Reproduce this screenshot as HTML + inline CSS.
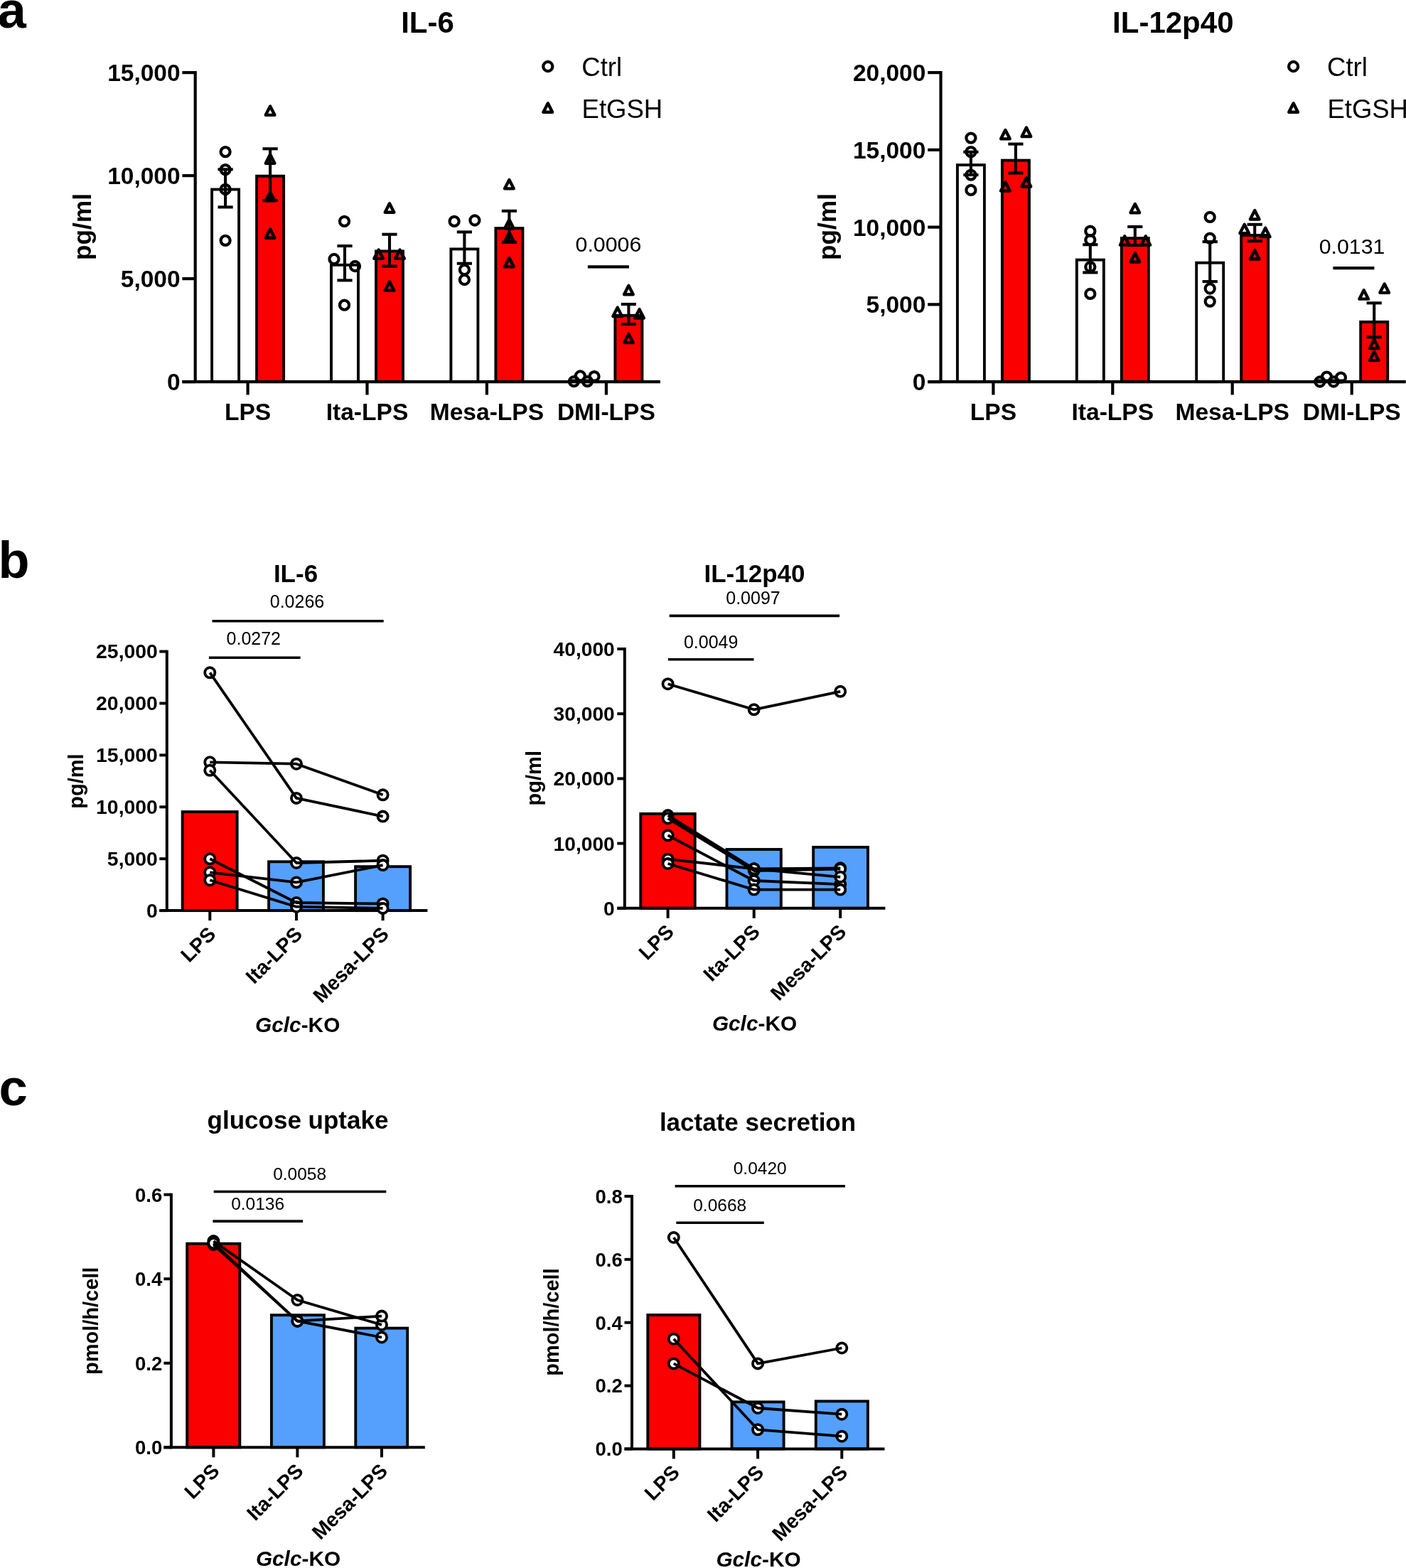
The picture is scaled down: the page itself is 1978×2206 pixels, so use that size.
<!DOCTYPE html>
<html><head><meta charset="utf-8"><title>Figure</title>
<style>
html,body{margin:0;padding:0;background:#fff;}
body{width:1978px;height:2206px;overflow:hidden;}
svg{display:block;}
text{font-family:'Liberation Sans', Arial, Helvetica, sans-serif;fill:#000;}
</style></head>
<body>
<svg width="1978" height="2206" viewBox="0 0 1978 2206">
<rect width="1978" height="2206" fill="#fff"/>
<rect x="298.1" y="266.5" width="38" height="270.6" fill="#fff" stroke="#000" stroke-width="3.9" stroke-linejoin="miter"/>
<rect x="361.1" y="247.7" width="38" height="289.4" fill="#fb0000" stroke="#000" stroke-width="3.9" stroke-linejoin="miter"/>
<rect x="466" y="372.8" width="38" height="164.3" fill="#fff" stroke="#000" stroke-width="3.9" stroke-linejoin="miter"/>
<rect x="529" y="353.4" width="38" height="183.7" fill="#fb0000" stroke="#000" stroke-width="3.9" stroke-linejoin="miter"/>
<rect x="634.4" y="350.4" width="38" height="186.7" fill="#fff" stroke="#000" stroke-width="3.9" stroke-linejoin="miter"/>
<rect x="697.4" y="321.1" width="38" height="216" fill="#fb0000" stroke="#000" stroke-width="3.9" stroke-linejoin="miter"/>
<rect x="802.4" y="535.5" width="38" height="1.6" fill="#fff" stroke="#000" stroke-width="3.9" stroke-linejoin="miter"/>
<rect x="865.4" y="443.8" width="38" height="93.3" fill="#fb0000" stroke="#000" stroke-width="3.9" stroke-linejoin="miter"/>
<line x1="274.7" y1="100.1" x2="274.7" y2="539.1" stroke="#000" stroke-width="4.2" stroke-linecap="butt"/>
<line x1="256.4" y1="102.1" x2="274.7" y2="102.1" stroke="#000" stroke-width="4.2" stroke-linecap="butt"/>
<text x="253.6" y="114" font-size="33.5" font-weight="bold" text-anchor="end">15,000</text>
<line x1="256.4" y1="247.1" x2="274.7" y2="247.1" stroke="#000" stroke-width="4.2" stroke-linecap="butt"/>
<text x="253.6" y="259" font-size="33.5" font-weight="bold" text-anchor="end">10,000</text>
<line x1="256.4" y1="392.1" x2="274.7" y2="392.1" stroke="#000" stroke-width="4.2" stroke-linecap="butt"/>
<text x="253.6" y="404" font-size="33.5" font-weight="bold" text-anchor="end">5,000</text>
<line x1="256.4" y1="537.1" x2="274.7" y2="537.1" stroke="#000" stroke-width="4.2" stroke-linecap="butt"/>
<text x="253.6" y="549" font-size="33.5" font-weight="bold" text-anchor="end">0</text>
<line x1="256.4" y1="537.1" x2="928.9" y2="537.1" stroke="#000" stroke-width="4.2" stroke-linecap="butt"/>
<line x1="348.6" y1="537.1" x2="348.6" y2="555.5" stroke="#000" stroke-width="4.2" stroke-linecap="butt"/>
<line x1="516.5" y1="537.1" x2="516.5" y2="555.5" stroke="#000" stroke-width="4.2" stroke-linecap="butt"/>
<line x1="684.9" y1="537.1" x2="684.9" y2="555.5" stroke="#000" stroke-width="4.2" stroke-linecap="butt"/>
<line x1="852.9" y1="537.1" x2="852.9" y2="555.5" stroke="#000" stroke-width="4.2" stroke-linecap="butt"/>
<text x="348.6" y="590.6" font-size="33.6" font-weight="bold" text-anchor="middle">LPS</text>
<text x="516.5" y="590.6" font-size="33.6" font-weight="bold" text-anchor="middle">Ita-LPS</text>
<text x="684.9" y="590.6" font-size="33.6" font-weight="bold" text-anchor="middle">Mesa-LPS</text>
<text x="852.9" y="590.6" font-size="33.6" font-weight="bold" text-anchor="middle">DMI-LPS</text>
<line x1="317.1" y1="238.3" x2="317.1" y2="291.4" stroke="#000" stroke-width="4.1" stroke-linecap="butt"/>
<line x1="306.5" y1="238.3" x2="327.7" y2="238.3" stroke="#000" stroke-width="4.1" stroke-linecap="butt"/>
<line x1="306.5" y1="291.4" x2="327.7" y2="291.4" stroke="#000" stroke-width="4.1" stroke-linecap="butt"/>
<line x1="380.1" y1="209.3" x2="380.1" y2="282" stroke="#000" stroke-width="4.1" stroke-linecap="butt"/>
<line x1="369.5" y1="209.3" x2="390.7" y2="209.3" stroke="#000" stroke-width="4.1" stroke-linecap="butt"/>
<line x1="369.5" y1="282" x2="390.7" y2="282" stroke="#000" stroke-width="4.1" stroke-linecap="butt"/>
<circle cx="317.1" cy="213.6" r="6.55" fill="none" stroke="#000" stroke-width="4.2"/>
<circle cx="317.1" cy="238.6" r="6.55" fill="none" stroke="#000" stroke-width="4.2"/>
<circle cx="317.1" cy="266.4" r="6.55" fill="none" stroke="#000" stroke-width="4.2"/>
<circle cx="317.1" cy="338.3" r="6.55" fill="none" stroke="#000" stroke-width="4.2"/>
<polygon points="380.1,149.47 373.8,161.86 386.4,161.86" fill="none" stroke="#000" stroke-width="4.4" stroke-linejoin="round"/>
<polygon points="380.1,217.37 373.8,229.76 386.4,229.76" fill="none" stroke="#000" stroke-width="4.4" stroke-linejoin="round"/>
<polygon points="380.1,270.17 373.8,282.56 386.4,282.56" fill="none" stroke="#000" stroke-width="4.4" stroke-linejoin="round"/>
<polygon points="380.1,322.37 373.8,334.76 386.4,334.76" fill="none" stroke="#000" stroke-width="4.4" stroke-linejoin="round"/>
<line x1="485" y1="346" x2="485" y2="394.4" stroke="#000" stroke-width="4.1" stroke-linecap="butt"/>
<line x1="474.4" y1="346" x2="495.6" y2="346" stroke="#000" stroke-width="4.1" stroke-linecap="butt"/>
<line x1="474.4" y1="394.4" x2="495.6" y2="394.4" stroke="#000" stroke-width="4.1" stroke-linecap="butt"/>
<line x1="548" y1="329.7" x2="548" y2="374.5" stroke="#000" stroke-width="4.1" stroke-linecap="butt"/>
<line x1="537.4" y1="329.7" x2="558.6" y2="329.7" stroke="#000" stroke-width="4.1" stroke-linecap="butt"/>
<line x1="537.4" y1="374.5" x2="558.6" y2="374.5" stroke="#000" stroke-width="4.1" stroke-linecap="butt"/>
<circle cx="484.5" cy="311.4" r="6.55" fill="none" stroke="#000" stroke-width="4.2"/>
<circle cx="470" cy="364.5" r="6.55" fill="none" stroke="#000" stroke-width="4.2"/>
<circle cx="499.5" cy="374.5" r="6.55" fill="none" stroke="#000" stroke-width="4.2"/>
<circle cx="484.5" cy="429.2" r="6.55" fill="none" stroke="#000" stroke-width="4.2"/>
<polygon points="548,286.37 541.7,298.76 554.3,298.76" fill="none" stroke="#000" stroke-width="4.4" stroke-linejoin="round"/>
<polygon points="532.6,351.47 526.3,363.86 538.9,363.86" fill="none" stroke="#000" stroke-width="4.4" stroke-linejoin="round"/>
<polygon points="562.5,351.47 556.2,363.86 568.8,363.86" fill="none" stroke="#000" stroke-width="4.4" stroke-linejoin="round"/>
<polygon points="548,396.27 541.7,408.66 554.3,408.66" fill="none" stroke="#000" stroke-width="4.4" stroke-linejoin="round"/>
<line x1="653.4" y1="326.4" x2="653.4" y2="370.7" stroke="#000" stroke-width="4.1" stroke-linecap="butt"/>
<line x1="642.8" y1="326.4" x2="664" y2="326.4" stroke="#000" stroke-width="4.1" stroke-linecap="butt"/>
<line x1="642.8" y1="370.7" x2="664" y2="370.7" stroke="#000" stroke-width="4.1" stroke-linecap="butt"/>
<line x1="716.4" y1="296.8" x2="716.4" y2="340.8" stroke="#000" stroke-width="4.1" stroke-linecap="butt"/>
<line x1="705.8" y1="296.8" x2="727" y2="296.8" stroke="#000" stroke-width="4.1" stroke-linecap="butt"/>
<line x1="705.8" y1="340.8" x2="727" y2="340.8" stroke="#000" stroke-width="4.1" stroke-linecap="butt"/>
<circle cx="639.1" cy="311.4" r="6.55" fill="none" stroke="#000" stroke-width="4.2"/>
<circle cx="667.9" cy="310" r="6.55" fill="none" stroke="#000" stroke-width="4.2"/>
<circle cx="653.4" cy="379.5" r="6.55" fill="none" stroke="#000" stroke-width="4.2"/>
<circle cx="653.4" cy="393.5" r="6.55" fill="none" stroke="#000" stroke-width="4.2"/>
<polygon points="716.4,252.97 710.1,265.36 722.7,265.36" fill="none" stroke="#000" stroke-width="4.4" stroke-linejoin="round"/>
<polygon points="716.4,309.07 710.1,321.46 722.7,321.46" fill="none" stroke="#000" stroke-width="4.4" stroke-linejoin="round"/>
<polygon points="716.4,327.07 710.1,339.46 722.7,339.46" fill="none" stroke="#000" stroke-width="4.4" stroke-linejoin="round"/>
<polygon points="716.4,362.87 710.1,375.26 722.7,375.26" fill="none" stroke="#000" stroke-width="4.4" stroke-linejoin="round"/>
<line x1="884.4" y1="428" x2="884.4" y2="456" stroke="#000" stroke-width="4.1" stroke-linecap="butt"/>
<line x1="873.8" y1="428" x2="895" y2="428" stroke="#000" stroke-width="4.1" stroke-linecap="butt"/>
<line x1="873.8" y1="456" x2="895" y2="456" stroke="#000" stroke-width="4.1" stroke-linecap="butt"/>
<circle cx="807.4" cy="536.6" r="6.55" fill="none" stroke="#000" stroke-width="4.2"/>
<circle cx="816.3" cy="529" r="6.55" fill="none" stroke="#000" stroke-width="4.2"/>
<circle cx="826.4" cy="536.6" r="6.55" fill="none" stroke="#000" stroke-width="4.2"/>
<circle cx="836" cy="529.6" r="6.55" fill="none" stroke="#000" stroke-width="4.2"/>
<polygon points="884.4,401.87 878.1,414.26 890.7,414.26" fill="none" stroke="#000" stroke-width="4.4" stroke-linejoin="round"/>
<polygon points="868.7,432.67 862.4,445.06 875,445.06" fill="none" stroke="#000" stroke-width="4.4" stroke-linejoin="round"/>
<polygon points="899.5,435.17 893.2,447.56 905.8,447.56" fill="none" stroke="#000" stroke-width="4.4" stroke-linejoin="round"/>
<polygon points="884.4,469.77 878.1,482.16 890.7,482.16" fill="none" stroke="#000" stroke-width="4.4" stroke-linejoin="round"/>
<text x="601.5" y="45.5" font-size="42" font-weight="bold" text-anchor="middle">IL-6</text>
<text x="127.6" y="319" font-size="35.3" font-weight="bold" text-anchor="middle" transform="rotate(-90 127.6 319)">pg/ml</text>
<circle cx="770.8" cy="93.5" r="6.55" fill="none" stroke="#000" stroke-width="4.2"/>
<polygon points="770.8,145.37 764.5,157.76 777.1,157.76" fill="none" stroke="#000" stroke-width="4.4" stroke-linejoin="round"/>
<text x="818.3" y="106.6" font-size="36.5" font-weight="normal" text-anchor="start">Ctrl</text>
<text x="818.6" y="165.7" font-size="36.5" font-weight="normal" text-anchor="start">EtGSH</text>
<line x1="826.9" y1="375.3" x2="884.9" y2="375.3" stroke="#000" stroke-width="4.2" stroke-linecap="butt"/>
<text x="855.9" y="354.2" font-size="30.3" font-weight="normal" text-anchor="middle">0.0006</text>
<rect x="1346.9" y="232.1" width="38" height="305" fill="#fff" stroke="#000" stroke-width="3.9" stroke-linejoin="miter"/>
<rect x="1409.9" y="225.6" width="38" height="311.5" fill="#fb0000" stroke="#000" stroke-width="3.9" stroke-linejoin="miter"/>
<rect x="1514.8" y="365.6" width="38" height="171.5" fill="#fff" stroke="#000" stroke-width="3.9" stroke-linejoin="miter"/>
<rect x="1577.8" y="335.1" width="38" height="202" fill="#fb0000" stroke="#000" stroke-width="3.9" stroke-linejoin="miter"/>
<rect x="1683.2" y="369.7" width="38" height="167.4" fill="#fff" stroke="#000" stroke-width="3.9" stroke-linejoin="miter"/>
<rect x="1746.2" y="331" width="38" height="206.1" fill="#fb0000" stroke="#000" stroke-width="3.9" stroke-linejoin="miter"/>
<rect x="1851.2" y="535.5" width="38" height="1.6" fill="#fff" stroke="#000" stroke-width="3.9" stroke-linejoin="miter"/>
<rect x="1914.2" y="452.9" width="38" height="84.2" fill="#fb0000" stroke="#000" stroke-width="3.9" stroke-linejoin="miter"/>
<line x1="1323.5" y1="100.1" x2="1323.5" y2="539.1" stroke="#000" stroke-width="4.2" stroke-linecap="butt"/>
<line x1="1305.2" y1="102.1" x2="1323.5" y2="102.1" stroke="#000" stroke-width="4.2" stroke-linecap="butt"/>
<text x="1302.4" y="114" font-size="33.5" font-weight="bold" text-anchor="end">20,000</text>
<line x1="1305.2" y1="210.85" x2="1323.5" y2="210.85" stroke="#000" stroke-width="4.2" stroke-linecap="butt"/>
<text x="1302.4" y="222.75" font-size="33.5" font-weight="bold" text-anchor="end">15,000</text>
<line x1="1305.2" y1="319.6" x2="1323.5" y2="319.6" stroke="#000" stroke-width="4.2" stroke-linecap="butt"/>
<text x="1302.4" y="331.5" font-size="33.5" font-weight="bold" text-anchor="end">10,000</text>
<line x1="1305.2" y1="428.35" x2="1323.5" y2="428.35" stroke="#000" stroke-width="4.2" stroke-linecap="butt"/>
<text x="1302.4" y="440.25" font-size="33.5" font-weight="bold" text-anchor="end">5,000</text>
<line x1="1305.2" y1="537.1" x2="1323.5" y2="537.1" stroke="#000" stroke-width="4.2" stroke-linecap="butt"/>
<text x="1302.4" y="549" font-size="33.5" font-weight="bold" text-anchor="end">0</text>
<line x1="1305.2" y1="537.1" x2="1977.7" y2="537.1" stroke="#000" stroke-width="4.2" stroke-linecap="butt"/>
<line x1="1397.4" y1="537.1" x2="1397.4" y2="555.5" stroke="#000" stroke-width="4.2" stroke-linecap="butt"/>
<line x1="1565.3" y1="537.1" x2="1565.3" y2="555.5" stroke="#000" stroke-width="4.2" stroke-linecap="butt"/>
<line x1="1733.7" y1="537.1" x2="1733.7" y2="555.5" stroke="#000" stroke-width="4.2" stroke-linecap="butt"/>
<line x1="1901.7" y1="537.1" x2="1901.7" y2="555.5" stroke="#000" stroke-width="4.2" stroke-linecap="butt"/>
<text x="1397.4" y="590.6" font-size="33.6" font-weight="bold" text-anchor="middle">LPS</text>
<text x="1565.3" y="590.6" font-size="33.6" font-weight="bold" text-anchor="middle">Ita-LPS</text>
<text x="1733.7" y="590.6" font-size="33.6" font-weight="bold" text-anchor="middle">Mesa-LPS</text>
<text x="1901.7" y="590.6" font-size="33.6" font-weight="bold" text-anchor="middle">DMI-LPS</text>
<line x1="1365.9" y1="213.7" x2="1365.9" y2="246.1" stroke="#000" stroke-width="4.1" stroke-linecap="butt"/>
<line x1="1355.3" y1="213.7" x2="1376.5" y2="213.7" stroke="#000" stroke-width="4.1" stroke-linecap="butt"/>
<line x1="1355.3" y1="246.1" x2="1376.5" y2="246.1" stroke="#000" stroke-width="4.1" stroke-linecap="butt"/>
<line x1="1428.9" y1="202.6" x2="1428.9" y2="243.5" stroke="#000" stroke-width="4.1" stroke-linecap="butt"/>
<line x1="1418.3" y1="202.6" x2="1439.5" y2="202.6" stroke="#000" stroke-width="4.1" stroke-linecap="butt"/>
<line x1="1418.3" y1="243.5" x2="1439.5" y2="243.5" stroke="#000" stroke-width="4.1" stroke-linecap="butt"/>
<circle cx="1365.9" cy="194.1" r="6.55" fill="none" stroke="#000" stroke-width="4.2"/>
<circle cx="1365.9" cy="213.7" r="6.55" fill="none" stroke="#000" stroke-width="4.2"/>
<circle cx="1365.9" cy="246.1" r="6.55" fill="none" stroke="#000" stroke-width="4.2"/>
<circle cx="1365.9" cy="267.4" r="6.55" fill="none" stroke="#000" stroke-width="4.2"/>
<polygon points="1414.4,182.97 1408.1,195.36 1420.7,195.36" fill="none" stroke="#000" stroke-width="4.4" stroke-linejoin="round"/>
<polygon points="1443.9,179.57 1437.6,191.96 1450.2,191.96" fill="none" stroke="#000" stroke-width="4.4" stroke-linejoin="round"/>
<polygon points="1414.4,256.17 1408.1,268.56 1420.7,268.56" fill="none" stroke="#000" stroke-width="4.4" stroke-linejoin="round"/>
<polygon points="1443.9,250.17 1437.6,262.56 1450.2,262.56" fill="none" stroke="#000" stroke-width="4.4" stroke-linejoin="round"/>
<line x1="1533.8" y1="344.2" x2="1533.8" y2="383.4" stroke="#000" stroke-width="4.1" stroke-linecap="butt"/>
<line x1="1523.2" y1="344.2" x2="1544.4" y2="344.2" stroke="#000" stroke-width="4.1" stroke-linecap="butt"/>
<line x1="1523.2" y1="383.4" x2="1544.4" y2="383.4" stroke="#000" stroke-width="4.1" stroke-linecap="butt"/>
<line x1="1596.8" y1="319" x2="1596.8" y2="345" stroke="#000" stroke-width="4.1" stroke-linecap="butt"/>
<line x1="1586.2" y1="319" x2="1607.4" y2="319" stroke="#000" stroke-width="4.1" stroke-linecap="butt"/>
<line x1="1586.2" y1="345" x2="1607.4" y2="345" stroke="#000" stroke-width="4.1" stroke-linecap="butt"/>
<circle cx="1533.8" cy="325.2" r="6.55" fill="none" stroke="#000" stroke-width="4.2"/>
<circle cx="1533.8" cy="337.6" r="6.55" fill="none" stroke="#000" stroke-width="4.2"/>
<circle cx="1533.8" cy="375.5" r="6.55" fill="none" stroke="#000" stroke-width="4.2"/>
<circle cx="1533.8" cy="413.4" r="6.55" fill="none" stroke="#000" stroke-width="4.2"/>
<polygon points="1596.8,286.97 1590.5,299.36 1603.1,299.36" fill="none" stroke="#000" stroke-width="4.4" stroke-linejoin="round"/>
<polygon points="1582.2,332.27 1575.9,344.66 1588.5,344.66" fill="none" stroke="#000" stroke-width="4.4" stroke-linejoin="round"/>
<polygon points="1611.8,332.27 1605.5,344.66 1618.1,344.66" fill="none" stroke="#000" stroke-width="4.4" stroke-linejoin="round"/>
<polygon points="1596.8,356.17 1590.5,368.56 1603.1,368.56" fill="none" stroke="#000" stroke-width="4.4" stroke-linejoin="round"/>
<line x1="1702.2" y1="340.1" x2="1702.2" y2="396.1" stroke="#000" stroke-width="4.1" stroke-linecap="butt"/>
<line x1="1691.6" y1="340.1" x2="1712.8" y2="340.1" stroke="#000" stroke-width="4.1" stroke-linecap="butt"/>
<line x1="1691.6" y1="396.1" x2="1712.8" y2="396.1" stroke="#000" stroke-width="4.1" stroke-linecap="butt"/>
<line x1="1765.2" y1="315.8" x2="1765.2" y2="339.2" stroke="#000" stroke-width="4.1" stroke-linecap="butt"/>
<line x1="1754.6" y1="315.8" x2="1775.8" y2="315.8" stroke="#000" stroke-width="4.1" stroke-linecap="butt"/>
<line x1="1754.6" y1="339.2" x2="1775.8" y2="339.2" stroke="#000" stroke-width="4.1" stroke-linecap="butt"/>
<circle cx="1702.2" cy="305.4" r="6.55" fill="none" stroke="#000" stroke-width="4.2"/>
<circle cx="1702.2" cy="335.1" r="6.55" fill="none" stroke="#000" stroke-width="4.2"/>
<circle cx="1702.2" cy="406" r="6.55" fill="none" stroke="#000" stroke-width="4.2"/>
<circle cx="1702.2" cy="424.1" r="6.55" fill="none" stroke="#000" stroke-width="4.2"/>
<polygon points="1765.2,296.07 1758.9,308.46 1771.5,308.46" fill="none" stroke="#000" stroke-width="4.4" stroke-linejoin="round"/>
<polygon points="1750.7,315.77 1744.4,328.16 1757,328.16" fill="none" stroke="#000" stroke-width="4.4" stroke-linejoin="round"/>
<polygon points="1780.2,320.77 1773.9,333.16 1786.5,333.16" fill="none" stroke="#000" stroke-width="4.4" stroke-linejoin="round"/>
<polygon points="1765.2,352.07 1758.9,364.46 1771.5,364.46" fill="none" stroke="#000" stroke-width="4.4" stroke-linejoin="round"/>
<line x1="1933.2" y1="426.3" x2="1933.2" y2="474.4" stroke="#000" stroke-width="4.1" stroke-linecap="butt"/>
<line x1="1922.6" y1="426.3" x2="1943.8" y2="426.3" stroke="#000" stroke-width="4.1" stroke-linecap="butt"/>
<line x1="1922.6" y1="474.4" x2="1943.8" y2="474.4" stroke="#000" stroke-width="4.1" stroke-linecap="butt"/>
<circle cx="1856.9" cy="537" r="6.55" fill="none" stroke="#000" stroke-width="4.2"/>
<circle cx="1866.5" cy="530.2" r="6.55" fill="none" stroke="#000" stroke-width="4.2"/>
<circle cx="1876.1" cy="537" r="6.55" fill="none" stroke="#000" stroke-width="4.2"/>
<circle cx="1886.4" cy="531.2" r="6.55" fill="none" stroke="#000" stroke-width="4.2"/>
<polygon points="1918.7,408.27 1912.4,420.66 1925,420.66" fill="none" stroke="#000" stroke-width="4.4" stroke-linejoin="round"/>
<polygon points="1947.7,399.47 1941.4,411.86 1954,411.86" fill="none" stroke="#000" stroke-width="4.4" stroke-linejoin="round"/>
<polygon points="1933.2,477.77 1926.9,490.16 1939.5,490.16" fill="none" stroke="#000" stroke-width="4.4" stroke-linejoin="round"/>
<polygon points="1933.2,494.77 1926.9,507.16 1939.5,507.16" fill="none" stroke="#000" stroke-width="4.4" stroke-linejoin="round"/>
<text x="1650.3" y="45.5" font-size="42" font-weight="bold" text-anchor="middle">IL-12p40</text>
<text x="1176.4" y="319" font-size="35.3" font-weight="bold" text-anchor="middle" transform="rotate(-90 1176.4 319)">pg/ml</text>
<circle cx="1819.6" cy="93.5" r="6.55" fill="none" stroke="#000" stroke-width="4.2"/>
<polygon points="1819.6,145.37 1813.3,157.76 1825.9,157.76" fill="none" stroke="#000" stroke-width="4.4" stroke-linejoin="round"/>
<text x="1867.1" y="106.6" font-size="36.5" font-weight="normal" text-anchor="start">Ctrl</text>
<text x="1867.4" y="165.7" font-size="36.5" font-weight="normal" text-anchor="start">EtGSH</text>
<line x1="1875.4" y1="377.2" x2="1933.4" y2="377.2" stroke="#000" stroke-width="4.2" stroke-linecap="butt"/>
<text x="1902.1" y="357.2" font-size="30.3" font-weight="normal" text-anchor="middle">0.0131</text>
<rect x="256.7" y="1142.1" width="76.9" height="139" fill="#fb0000" stroke="#000" stroke-width="3.9" stroke-linejoin="miter"/>
<rect x="378.1" y="1212.3" width="76.8" height="68.8" fill="#55a0fc" stroke="#000" stroke-width="3.9" stroke-linejoin="miter"/>
<rect x="500.1" y="1219.2" width="77" height="61.9" fill="#55a0fc" stroke="#000" stroke-width="3.9" stroke-linejoin="miter"/>
<line x1="234.8" y1="914.7" x2="234.8" y2="1283" stroke="#000" stroke-width="4" stroke-linecap="butt"/>
<line x1="224.3" y1="916.6" x2="234.8" y2="916.6" stroke="#000" stroke-width="4" stroke-linecap="butt"/>
<text x="221.9" y="926.4" font-size="28.4" font-weight="bold" text-anchor="end">25,000</text>
<line x1="224.3" y1="989.5" x2="234.8" y2="989.5" stroke="#000" stroke-width="4" stroke-linecap="butt"/>
<text x="221.9" y="999.3" font-size="28.4" font-weight="bold" text-anchor="end">20,000</text>
<line x1="224.3" y1="1062.4" x2="234.8" y2="1062.4" stroke="#000" stroke-width="4" stroke-linecap="butt"/>
<text x="221.9" y="1072.2" font-size="28.4" font-weight="bold" text-anchor="end">15,000</text>
<line x1="224.3" y1="1135.3" x2="234.8" y2="1135.3" stroke="#000" stroke-width="4" stroke-linecap="butt"/>
<text x="221.9" y="1145.1" font-size="28.4" font-weight="bold" text-anchor="end">10,000</text>
<line x1="224.3" y1="1208.2" x2="234.8" y2="1208.2" stroke="#000" stroke-width="4" stroke-linecap="butt"/>
<text x="221.9" y="1218" font-size="28.4" font-weight="bold" text-anchor="end">5,000</text>
<line x1="224.3" y1="1281.1" x2="234.8" y2="1281.1" stroke="#000" stroke-width="4" stroke-linecap="butt"/>
<text x="221.9" y="1290.9" font-size="28.4" font-weight="bold" text-anchor="end">0</text>
<line x1="224.3" y1="1281.1" x2="601.4" y2="1281.1" stroke="#000" stroke-width="4" stroke-linecap="butt"/>
<line x1="295.3" y1="1281.1" x2="295.3" y2="1295.1" stroke="#000" stroke-width="4" stroke-linecap="butt"/>
<line x1="417" y1="1281.1" x2="417" y2="1295.1" stroke="#000" stroke-width="4" stroke-linecap="butt"/>
<line x1="538.6" y1="1281.1" x2="538.6" y2="1295.1" stroke="#000" stroke-width="4" stroke-linecap="butt"/>
<circle cx="295.3" cy="946.3" r="7.1" fill="#fff" stroke="#000" stroke-width="3.8"/>
<circle cx="417" cy="1122.9" r="7.1" fill="#fff" stroke="#000" stroke-width="3.8"/>
<circle cx="538.6" cy="1148.6" r="7.1" fill="#fff" stroke="#000" stroke-width="3.8"/>
<circle cx="295.3" cy="1072.3" r="7.1" fill="#fff" stroke="#000" stroke-width="3.8"/>
<circle cx="417" cy="1074.7" r="7.1" fill="#fff" stroke="#000" stroke-width="3.8"/>
<circle cx="538.6" cy="1118.3" r="7.1" fill="#fff" stroke="#000" stroke-width="3.8"/>
<circle cx="295.3" cy="1083.8" r="7.1" fill="#fff" stroke="#000" stroke-width="3.8"/>
<circle cx="417" cy="1214" r="7.1" fill="#fff" stroke="#000" stroke-width="3.8"/>
<circle cx="538.6" cy="1210.7" r="7.1" fill="#fff" stroke="#000" stroke-width="3.8"/>
<circle cx="295.3" cy="1208.3" r="7.1" fill="#fff" stroke="#000" stroke-width="3.8"/>
<circle cx="417" cy="1270" r="7.1" fill="#fff" stroke="#000" stroke-width="3.8"/>
<circle cx="538.6" cy="1271.4" r="7.1" fill="#fff" stroke="#000" stroke-width="3.8"/>
<circle cx="295.3" cy="1227.3" r="7.1" fill="#fff" stroke="#000" stroke-width="3.8"/>
<circle cx="417" cy="1241.4" r="7.1" fill="#fff" stroke="#000" stroke-width="3.8"/>
<circle cx="538.6" cy="1217.1" r="7.1" fill="#fff" stroke="#000" stroke-width="3.8"/>
<circle cx="295.3" cy="1238.3" r="7.1" fill="#fff" stroke="#000" stroke-width="3.8"/>
<circle cx="417" cy="1275.7" r="7.1" fill="#fff" stroke="#000" stroke-width="3.8"/>
<circle cx="538.6" cy="1277.9" r="7.1" fill="#fff" stroke="#000" stroke-width="3.8"/>
<polyline points="295.3,946.3 417,1122.9 538.6,1148.6" fill="none" stroke="#000" stroke-width="3.8" stroke-linejoin="round"/>
<polyline points="295.3,1072.3 417,1074.7 538.6,1118.3" fill="none" stroke="#000" stroke-width="3.8" stroke-linejoin="round"/>
<polyline points="295.3,1083.8 417,1214 538.6,1210.7" fill="none" stroke="#000" stroke-width="3.8" stroke-linejoin="round"/>
<polyline points="295.3,1208.3 417,1270 538.6,1271.4" fill="none" stroke="#000" stroke-width="3.8" stroke-linejoin="round"/>
<polyline points="295.3,1227.3 417,1241.4 538.6,1217.1" fill="none" stroke="#000" stroke-width="3.8" stroke-linejoin="round"/>
<polyline points="295.3,1238.3 417,1275.7 538.6,1277.9" fill="none" stroke="#000" stroke-width="3.8" stroke-linejoin="round"/>
<line x1="293.9" y1="925.3" x2="422.6" y2="925.3" stroke="#000" stroke-width="3.6" stroke-linecap="butt"/>
<text x="356.8" y="907.2" font-size="25" font-weight="normal" text-anchor="middle">0.0272</text>
<line x1="298.5" y1="873.7" x2="539.7" y2="873.7" stroke="#000" stroke-width="3.6" stroke-linecap="butt"/>
<text x="418" y="855.3" font-size="25" font-weight="normal" text-anchor="middle">0.0266</text>
<text x="416" y="818.5" font-size="35" font-weight="bold" text-anchor="middle">IL-6</text>
<text x="116.6" y="1099" font-size="29" font-weight="bold" text-anchor="middle" transform="rotate(-90 116.6 1099)">pg/ml</text>
<text x="305.3" y="1316.1" font-size="28.5" font-weight="bold" text-anchor="end" transform="rotate(-45 305.3 1316.1)">LPS</text>
<text x="427" y="1316.1" font-size="28.5" font-weight="bold" text-anchor="end" transform="rotate(-45 427 1316.1)">Ita-LPS</text>
<text x="548.6" y="1316.1" font-size="28.5" font-weight="bold" text-anchor="end" transform="rotate(-45 548.6 1316.1)">Mesa-LPS</text>
<text x="418.7" y="1452.3" font-size="29.8" font-weight="bold" text-anchor="middle"><tspan font-style="italic">Gclc</tspan>-KO</text>
<rect x="901.3" y="1144.9" width="76.4" height="132.9" fill="#fb0000" stroke="#000" stroke-width="3.9" stroke-linejoin="miter"/>
<rect x="1022.5" y="1195" width="76.3" height="82.8" fill="#55a0fc" stroke="#000" stroke-width="3.9" stroke-linejoin="miter"/>
<rect x="1144.2" y="1191.9" width="76.8" height="85.9" fill="#55a0fc" stroke="#000" stroke-width="3.9" stroke-linejoin="miter"/>
<line x1="878.8" y1="911.1" x2="878.8" y2="1279.7" stroke="#000" stroke-width="4" stroke-linecap="butt"/>
<line x1="868.3" y1="913" x2="878.8" y2="913" stroke="#000" stroke-width="4" stroke-linecap="butt"/>
<text x="864.8" y="922.9" font-size="28.2" font-weight="bold" text-anchor="end">40,000</text>
<line x1="868.3" y1="1004.2" x2="878.8" y2="1004.2" stroke="#000" stroke-width="4" stroke-linecap="butt"/>
<text x="864.8" y="1014.1" font-size="28.2" font-weight="bold" text-anchor="end">30,000</text>
<line x1="868.3" y1="1095.4" x2="878.8" y2="1095.4" stroke="#000" stroke-width="4" stroke-linecap="butt"/>
<text x="864.8" y="1105.3" font-size="28.2" font-weight="bold" text-anchor="end">20,000</text>
<line x1="868.3" y1="1186.6" x2="878.8" y2="1186.6" stroke="#000" stroke-width="4" stroke-linecap="butt"/>
<text x="864.8" y="1196.5" font-size="28.2" font-weight="bold" text-anchor="end">10,000</text>
<line x1="868.3" y1="1277.8" x2="878.8" y2="1277.8" stroke="#000" stroke-width="4" stroke-linecap="butt"/>
<text x="864.8" y="1287.7" font-size="28.2" font-weight="bold" text-anchor="end">0</text>
<line x1="868.3" y1="1277.8" x2="1245.4" y2="1277.8" stroke="#000" stroke-width="4" stroke-linecap="butt"/>
<line x1="939.6" y1="1277.8" x2="939.6" y2="1291.8" stroke="#000" stroke-width="4" stroke-linecap="butt"/>
<line x1="1060.7" y1="1277.8" x2="1060.7" y2="1291.8" stroke="#000" stroke-width="4" stroke-linecap="butt"/>
<line x1="1182.2" y1="1277.8" x2="1182.2" y2="1291.8" stroke="#000" stroke-width="4" stroke-linecap="butt"/>
<circle cx="939.6" cy="962.2" r="7.1" fill="#fff" stroke="#000" stroke-width="3.8"/>
<circle cx="1060.7" cy="998.3" r="7.1" fill="#fff" stroke="#000" stroke-width="3.8"/>
<circle cx="1182.2" cy="972.8" r="7.1" fill="#fff" stroke="#000" stroke-width="3.8"/>
<circle cx="939.6" cy="1147.1" r="7.1" fill="#fff" stroke="#000" stroke-width="3.8"/>
<circle cx="1060.7" cy="1222.3" r="7.1" fill="#fff" stroke="#000" stroke-width="3.8"/>
<circle cx="1182.2" cy="1221.3" r="7.1" fill="#fff" stroke="#000" stroke-width="3.8"/>
<circle cx="939.6" cy="1151.3" r="7.1" fill="#fff" stroke="#000" stroke-width="3.8"/>
<circle cx="1060.7" cy="1225" r="7.1" fill="#fff" stroke="#000" stroke-width="3.8"/>
<circle cx="1182.2" cy="1222.5" r="7.1" fill="#fff" stroke="#000" stroke-width="3.8"/>
<circle cx="939.6" cy="1175.3" r="7.1" fill="#fff" stroke="#000" stroke-width="3.8"/>
<circle cx="1060.7" cy="1239" r="7.1" fill="#fff" stroke="#000" stroke-width="3.8"/>
<circle cx="1182.2" cy="1244.2" r="7.1" fill="#fff" stroke="#000" stroke-width="3.8"/>
<circle cx="939.6" cy="1208.7" r="7.1" fill="#fff" stroke="#000" stroke-width="3.8"/>
<circle cx="1060.7" cy="1222.3" r="7.1" fill="#fff" stroke="#000" stroke-width="3.8"/>
<circle cx="1182.2" cy="1233.8" r="7.1" fill="#fff" stroke="#000" stroke-width="3.8"/>
<circle cx="939.6" cy="1215" r="7.1" fill="#fff" stroke="#000" stroke-width="3.8"/>
<circle cx="1060.7" cy="1251.6" r="7.1" fill="#fff" stroke="#000" stroke-width="3.8"/>
<circle cx="1182.2" cy="1251.6" r="7.1" fill="#fff" stroke="#000" stroke-width="3.8"/>
<polyline points="939.6,962.2 1060.7,998.3 1182.2,972.8" fill="none" stroke="#000" stroke-width="3.8" stroke-linejoin="round"/>
<polyline points="939.6,1147.1 1060.7,1222.3 1182.2,1221.3" fill="none" stroke="#000" stroke-width="3.8" stroke-linejoin="round"/>
<polyline points="939.6,1151.3 1060.7,1225 1182.2,1222.5" fill="none" stroke="#000" stroke-width="3.8" stroke-linejoin="round"/>
<polyline points="939.6,1175.3 1060.7,1239 1182.2,1244.2" fill="none" stroke="#000" stroke-width="3.8" stroke-linejoin="round"/>
<polyline points="939.6,1208.7 1060.7,1222.3 1182.2,1233.8" fill="none" stroke="#000" stroke-width="3.8" stroke-linejoin="round"/>
<polyline points="939.6,1215 1060.7,1251.6 1182.2,1251.6" fill="none" stroke="#000" stroke-width="3.8" stroke-linejoin="round"/>
<line x1="939.9" y1="927.8" x2="1060.5" y2="927.8" stroke="#000" stroke-width="3.6" stroke-linecap="butt"/>
<text x="1000.2" y="911.8" font-size="25" font-weight="normal" text-anchor="middle">0.0049</text>
<line x1="941.7" y1="866.4" x2="1181.1" y2="866.4" stroke="#000" stroke-width="3.6" stroke-linecap="butt"/>
<text x="1059.5" y="850.4" font-size="25" font-weight="normal" text-anchor="middle">0.0097</text>
<text x="1061.5" y="818.5" font-size="35" font-weight="bold" text-anchor="middle">IL-12p40</text>
<text x="760.8" y="1094.7" font-size="29" font-weight="bold" text-anchor="middle" transform="rotate(-90 760.8 1094.7)">pg/ml</text>
<text x="949.6" y="1312.8" font-size="28.5" font-weight="bold" text-anchor="end" transform="rotate(-45 949.6 1312.8)">LPS</text>
<text x="1070.7" y="1312.8" font-size="28.5" font-weight="bold" text-anchor="end" transform="rotate(-45 1070.7 1312.8)">Ita-LPS</text>
<text x="1192.2" y="1312.8" font-size="28.5" font-weight="bold" text-anchor="end" transform="rotate(-45 1192.2 1312.8)">Mesa-LPS</text>
<text x="1061.5" y="1449.5" font-size="29.8" font-weight="bold" text-anchor="middle"><tspan font-style="italic">Gclc</tspan>-KO</text>
<rect x="263.2" y="1749.7" width="74.1" height="286.6" fill="#fb0000" stroke="#000" stroke-width="3.9" stroke-linejoin="miter"/>
<rect x="381.9" y="1850.2" width="74" height="186.1" fill="#55a0fc" stroke="#000" stroke-width="3.9" stroke-linejoin="miter"/>
<rect x="500.3" y="1868.6" width="72.9" height="167.7" fill="#55a0fc" stroke="#000" stroke-width="3.9" stroke-linejoin="miter"/>
<line x1="240.9" y1="1678.8" x2="240.9" y2="2038.2" stroke="#000" stroke-width="4" stroke-linecap="butt"/>
<line x1="230.4" y1="1680.7" x2="240.9" y2="1680.7" stroke="#000" stroke-width="4" stroke-linecap="butt"/>
<text x="228.3" y="1690.7" font-size="27.5" font-weight="bold" text-anchor="end">0.6</text>
<line x1="230.4" y1="1799.23" x2="240.9" y2="1799.23" stroke="#000" stroke-width="4" stroke-linecap="butt"/>
<text x="228.3" y="1809.23" font-size="27.5" font-weight="bold" text-anchor="end">0.4</text>
<line x1="230.4" y1="1917.77" x2="240.9" y2="1917.77" stroke="#000" stroke-width="4" stroke-linecap="butt"/>
<text x="228.3" y="1927.77" font-size="27.5" font-weight="bold" text-anchor="end">0.2</text>
<line x1="230.4" y1="2036.3" x2="240.9" y2="2036.3" stroke="#000" stroke-width="4" stroke-linecap="butt"/>
<text x="228.3" y="2046.3" font-size="27.5" font-weight="bold" text-anchor="end">0.0</text>
<line x1="230.4" y1="2036.3" x2="597.8" y2="2036.3" stroke="#000" stroke-width="4" stroke-linecap="butt"/>
<line x1="300.4" y1="2036.3" x2="300.4" y2="2050.3" stroke="#000" stroke-width="4" stroke-linecap="butt"/>
<line x1="418.4" y1="2036.3" x2="418.4" y2="2050.3" stroke="#000" stroke-width="4" stroke-linecap="butt"/>
<line x1="537" y1="2036.3" x2="537" y2="2050.3" stroke="#000" stroke-width="4" stroke-linecap="butt"/>
<circle cx="300.4" cy="1746.1" r="7.1" fill="#fff" stroke="#000" stroke-width="3.8"/>
<circle cx="418.4" cy="1829" r="7.1" fill="#fff" stroke="#000" stroke-width="3.8"/>
<circle cx="537" cy="1863.9" r="7.1" fill="#fff" stroke="#000" stroke-width="3.8"/>
<circle cx="300.4" cy="1751" r="7.1" fill="#fff" stroke="#000" stroke-width="3.8"/>
<circle cx="418.4" cy="1858.7" r="7.1" fill="#fff" stroke="#000" stroke-width="3.8"/>
<circle cx="537" cy="1851.6" r="7.1" fill="#fff" stroke="#000" stroke-width="3.8"/>
<circle cx="300.4" cy="1749" r="7.1" fill="#fff" stroke="#000" stroke-width="3.8"/>
<circle cx="418.4" cy="1858.7" r="7.1" fill="#fff" stroke="#000" stroke-width="3.8"/>
<circle cx="537" cy="1881.5" r="7.1" fill="#fff" stroke="#000" stroke-width="3.8"/>
<polyline points="300.4,1746.1 418.4,1829 537,1863.9" fill="none" stroke="#000" stroke-width="3.8" stroke-linejoin="round"/>
<polyline points="300.4,1751 418.4,1858.7 537,1851.6" fill="none" stroke="#000" stroke-width="3.8" stroke-linejoin="round"/>
<polyline points="300.4,1749 418.4,1858.7 537,1881.5" fill="none" stroke="#000" stroke-width="3.8" stroke-linejoin="round"/>
<line x1="299.4" y1="1718.1" x2="426" y2="1718.1" stroke="#000" stroke-width="3.6" stroke-linecap="butt"/>
<text x="362.6" y="1701.6" font-size="24.5" font-weight="normal" text-anchor="middle">0.0136</text>
<line x1="300.7" y1="1676.5" x2="543.3" y2="1676.5" stroke="#000" stroke-width="3.6" stroke-linecap="butt"/>
<text x="421.6" y="1660" font-size="24.5" font-weight="normal" text-anchor="middle">0.0058</text>
<text x="419" y="1587.9" font-size="35" font-weight="bold" text-anchor="middle">glucose uptake</text>
<text x="138.5" y="1858.3" font-size="29" font-weight="bold" text-anchor="middle" transform="rotate(-90 138.5 1858.3)">pmol/h/cell</text>
<text x="310.4" y="2071.3" font-size="28.5" font-weight="bold" text-anchor="end" transform="rotate(-45 310.4 2071.3)">LPS</text>
<text x="428.4" y="2071.3" font-size="28.5" font-weight="bold" text-anchor="end" transform="rotate(-45 428.4 2071.3)">Ita-LPS</text>
<text x="547" y="2071.3" font-size="28.5" font-weight="bold" text-anchor="end" transform="rotate(-45 547 2071.3)">Mesa-LPS</text>
<text x="419.5" y="2203.3" font-size="29.8" font-weight="bold" text-anchor="middle"><tspan font-style="italic">Gclc</tspan>-KO</text>
<rect x="911.3" y="1850" width="73.1" height="188.4" fill="#fb0000" stroke="#000" stroke-width="3.9" stroke-linejoin="miter"/>
<rect x="1029.5" y="1972.4" width="73.1" height="66" fill="#55a0fc" stroke="#000" stroke-width="3.9" stroke-linejoin="miter"/>
<rect x="1147.8" y="1971.4" width="73.1" height="67" fill="#55a0fc" stroke="#000" stroke-width="3.9" stroke-linejoin="miter"/>
<line x1="889" y1="1681.1" x2="889" y2="2040.3" stroke="#000" stroke-width="4" stroke-linecap="butt"/>
<line x1="878.5" y1="1683" x2="889" y2="1683" stroke="#000" stroke-width="4" stroke-linecap="butt"/>
<text x="875.7" y="1692.8" font-size="27.5" font-weight="bold" text-anchor="end">0.8</text>
<line x1="878.5" y1="1771.85" x2="889" y2="1771.85" stroke="#000" stroke-width="4" stroke-linecap="butt"/>
<text x="875.7" y="1781.65" font-size="27.5" font-weight="bold" text-anchor="end">0.6</text>
<line x1="878.5" y1="1860.7" x2="889" y2="1860.7" stroke="#000" stroke-width="4" stroke-linecap="butt"/>
<text x="875.7" y="1870.5" font-size="27.5" font-weight="bold" text-anchor="end">0.4</text>
<line x1="878.5" y1="1949.55" x2="889" y2="1949.55" stroke="#000" stroke-width="4" stroke-linecap="butt"/>
<text x="875.7" y="1959.35" font-size="27.5" font-weight="bold" text-anchor="end">0.2</text>
<line x1="878.5" y1="2038.4" x2="889" y2="2038.4" stroke="#000" stroke-width="4" stroke-linecap="butt"/>
<text x="875.7" y="2048.2" font-size="27.5" font-weight="bold" text-anchor="end">0.0</text>
<line x1="878.5" y1="2038.4" x2="1244.5" y2="2038.4" stroke="#000" stroke-width="4" stroke-linecap="butt"/>
<line x1="947.8" y1="2038.4" x2="947.8" y2="2052.4" stroke="#000" stroke-width="4" stroke-linecap="butt"/>
<line x1="1066.1" y1="2038.4" x2="1066.1" y2="2052.4" stroke="#000" stroke-width="4" stroke-linecap="butt"/>
<line x1="1184.3" y1="2038.4" x2="1184.3" y2="2052.4" stroke="#000" stroke-width="4" stroke-linecap="butt"/>
<circle cx="947.8" cy="1741" r="7.1" fill="#fff" stroke="#000" stroke-width="3.8"/>
<circle cx="1066.1" cy="1918.4" r="7.1" fill="#fff" stroke="#000" stroke-width="3.8"/>
<circle cx="1184.3" cy="1896.5" r="7.1" fill="#fff" stroke="#000" stroke-width="3.8"/>
<circle cx="947.8" cy="1883.7" r="7.1" fill="#fff" stroke="#000" stroke-width="3.8"/>
<circle cx="1066.1" cy="2011.3" r="7.1" fill="#fff" stroke="#000" stroke-width="3.8"/>
<circle cx="1184.3" cy="2020.7" r="7.1" fill="#fff" stroke="#000" stroke-width="3.8"/>
<circle cx="947.8" cy="1918.4" r="7.1" fill="#fff" stroke="#000" stroke-width="3.8"/>
<circle cx="1066.1" cy="1981" r="7.1" fill="#fff" stroke="#000" stroke-width="3.8"/>
<circle cx="1184.3" cy="1989.7" r="7.1" fill="#fff" stroke="#000" stroke-width="3.8"/>
<polyline points="947.8,1741 1066.1,1918.4 1184.3,1896.5" fill="none" stroke="#000" stroke-width="3.8" stroke-linejoin="round"/>
<polyline points="947.8,1883.7 1066.1,2011.3 1184.3,2020.7" fill="none" stroke="#000" stroke-width="3.8" stroke-linejoin="round"/>
<polyline points="947.8,1918.4 1066.1,1981 1184.3,1989.7" fill="none" stroke="#000" stroke-width="3.8" stroke-linejoin="round"/>
<line x1="951.3" y1="1720.2" x2="1074.8" y2="1720.2" stroke="#000" stroke-width="3.6" stroke-linecap="butt"/>
<text x="1012.7" y="1703.5" font-size="24.5" font-weight="normal" text-anchor="middle">0.0668</text>
<line x1="949.6" y1="1668.7" x2="1188.9" y2="1668.7" stroke="#000" stroke-width="3.6" stroke-linecap="butt"/>
<text x="1069.2" y="1652" font-size="24.5" font-weight="normal" text-anchor="middle">0.0420</text>
<text x="1066" y="1591.1" font-size="35" font-weight="bold" text-anchor="middle">lactate secretion</text>
<text x="786" y="1860" font-size="29" font-weight="bold" text-anchor="middle" transform="rotate(-90 786 1860)">pmol/h/cell</text>
<text x="957.8" y="2073.4" font-size="28.5" font-weight="bold" text-anchor="end" transform="rotate(-45 957.8 2073.4)">LPS</text>
<text x="1076.1" y="2073.4" font-size="28.5" font-weight="bold" text-anchor="end" transform="rotate(-45 1076.1 2073.4)">Ita-LPS</text>
<text x="1194.3" y="2073.4" font-size="28.5" font-weight="bold" text-anchor="end" transform="rotate(-45 1194.3 2073.4)">Mesa-LPS</text>
<text x="1067" y="2204.3" font-size="29.8" font-weight="bold" text-anchor="middle"><tspan font-style="italic">Gclc</tspan>-KO</text>
<text x="-3.2" y="39.2" font-size="72" font-weight="bold" text-anchor="start">a</text>
<text x="-2.6" y="812.9" font-size="72" font-weight="bold" text-anchor="start">b</text>
<text x="-1.6" y="1554.9" font-size="72.5" font-weight="bold" text-anchor="start">c</text>
</svg>
</body></html>
